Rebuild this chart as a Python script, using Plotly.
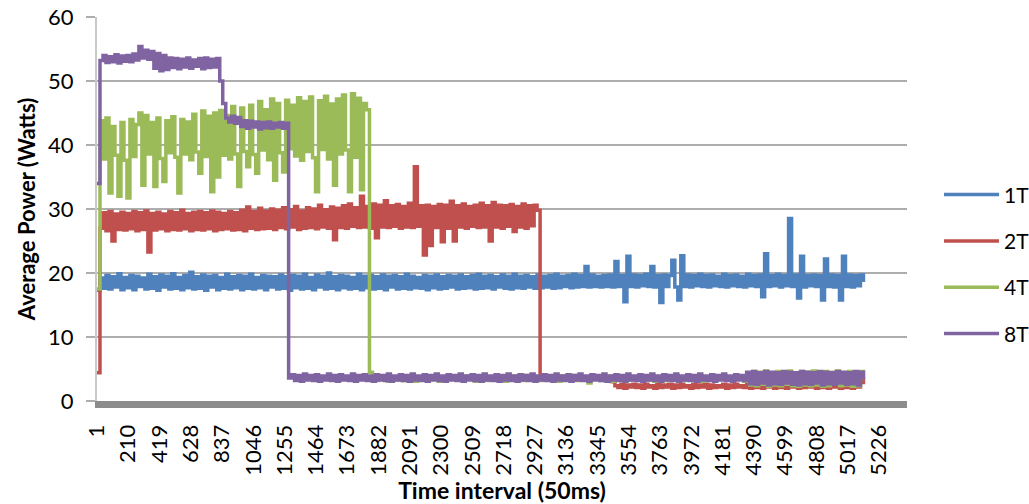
import plotly.graph_objects as go

# time-interval index (categories 1..N, sampled every 20 intervals)
time = list(range(1, 5122, 20))

tick_labels = [1, 210, 419, 628, 837, 1046, 1255, 1464, 1673, 1882, 2091, 2300, 2509,
               2718, 2927, 3136, 3345, 3554, 3763, 3972, 4181, 4390, 4599, 4808, 5017, 5226]
series_names = ["1T", "2T", "4T", "8T"]

p_1t = [
    17.3, 19.2, 17.6, 19.6, 17.5, 19.4, 17.8, 19.9, 17.4, 19.3,
    17.7, 19.6, 17.4, 19.5, 17.9, 19.2, 17.5, 19.8, 17.6, 19.4,
    17.3, 19.7, 17.8, 19.5, 17.5, 19.9, 17.6, 19.3, 17.4, 19.6,
    17.7, 20.1, 17.5, 19.4, 17.6, 19.7, 17.3, 19.5, 17.8, 19.6,
    17.4, 19.3, 17.6, 19.8, 17.5, 19.4, 17.7, 19.6, 17.4, 19.5,
    17.6, 19.8, 17.5, 19.3, 17.7, 19.6, 17.4, 19.5, 17.8, 19.4,
    17.5, 19.7, 17.6, 19.4, 17.3, 19.6, 17.7, 19.5, 17.5, 19.8,
    17.6, 19.3, 17.4, 19.7, 17.8, 19.5, 17.5, 20.0, 17.6, 19.4,
    17.4, 19.6, 17.7, 19.5, 17.5, 19.3, 17.6, 19.8, 17.4, 19.5,
    17.7, 19.6, 17.5, 19.4, 17.6, 19.7, 17.4, 19.5, 17.8, 19.6,
    17.5, 19.4, 17.6, 19.8, 17.5, 19.5, 17.7, 19.3, 17.6, 19.6,
    17.4, 19.5, 17.7, 19.7, 17.5, 19.4, 17.6, 19.6, 17.8, 19.5,
    17.5, 19.7, 17.6, 19.4, 17.7, 19.6, 17.5, 19.8, 17.6, 19.5,
    17.7, 19.6, 17.5, 19.4, 17.8, 19.7, 17.6, 19.5, 17.5, 19.8,
    17.7, 19.5, 17.6, 19.6, 17.8, 19.4, 17.6, 19.7, 17.7, 19.5,
    17.8, 19.6, 17.6, 19.8, 17.7, 19.5, 17.9, 19.6, 17.7, 19.8,
    17.8, 19.6, 17.9, 21.0, 17.8, 19.7, 17.9, 19.5, 17.8, 19.6,
    17.9, 19.7, 17.8, 21.8, 17.9, 19.6, 15.5, 22.6, 17.9, 19.7,
    17.8, 19.6, 18.0, 19.8, 17.9, 21.0, 17.8, 19.6, 15.4, 19.7,
    17.9, 19.6, 22.0, 17.8, 15.8, 22.7, 17.9, 19.7, 17.8, 19.6,
    18.0, 19.8, 17.9, 19.6, 17.8, 19.7, 18.0, 19.5, 17.9, 19.8,
    17.8, 19.6, 18.0, 19.7, 17.9, 19.5, 17.8, 19.8, 18.0, 19.6,
    17.9, 19.7, 16.3, 23.0, 17.9, 19.6, 18.0, 19.8, 17.8, 19.6,
    18.0, 28.5, 17.9, 19.7, 16.1, 22.6, 17.8, 19.6, 18.0, 19.7,
    17.9, 19.6, 15.8, 22.2, 17.9, 19.7, 17.8, 19.6, 15.8, 22.6,
    17.9, 19.7, 17.8, 19.6, 18.0, 19.7, 18.6,
]

p_2t = [
    4.4, 27.0, 29.4, 26.6, 29.6, 25.0, 29.2, 26.8, 29.5, 26.7,
    29.3, 26.9, 29.6, 26.6, 29.4, 26.8, 29.7, 23.3, 29.3, 26.7,
    29.5, 26.9, 29.2, 26.6, 29.6, 26.8, 29.4, 26.7, 29.8, 26.9,
    29.3, 26.6, 29.5, 26.8, 29.6, 26.7, 29.4, 26.9, 29.7, 26.6,
    29.5, 26.8, 29.3, 26.9, 29.6, 26.7, 29.4, 26.8, 29.8, 26.6,
    30.3, 27.0, 29.6, 26.8, 30.1, 26.9, 29.7, 27.0, 30.0, 26.8,
    29.8, 27.1, 30.2, 26.9, 29.9, 27.2, 30.4, 26.8, 29.7, 27.0,
    30.2, 27.1, 30.0, 26.9, 30.6, 27.2, 29.9, 27.0, 30.3, 25.2,
    30.1, 27.1, 30.5, 27.0, 30.8, 27.3, 30.2, 27.1, 32.0, 27.2,
    30.4, 27.0, 30.8, 25.5, 30.6, 27.2, 31.3, 27.1, 30.5, 27.3,
    30.7, 27.0, 30.4, 27.2, 30.9, 27.1, 36.6, 27.3, 30.5, 22.8,
    30.6, 24.3, 30.4, 27.1, 30.7, 24.9, 30.6, 27.0, 31.2, 25.0,
    30.5, 27.2, 30.8, 27.0, 30.4, 27.3, 30.6, 27.1, 30.9, 27.2,
    30.5, 25.0, 31.0, 27.2, 30.6, 27.0, 30.5, 27.3, 30.7, 26.5,
    30.4, 27.2, 30.8, 27.0, 30.5, 27.4, 30.6, 29.8, 3.6, 3.3,
    3.8, 3.4, 3.7, 3.3, 3.9, 3.5, 3.6, 3.3, 3.8, 3.4,
    3.7, 3.4, 3.8, 3.3, 3.6, 3.5, 3.9, 3.4, 3.7, 3.3,
    3.6, 3.4, 3.0, 2.4, 2.1, 2.6, 2.0, 2.5, 2.2, 2.6,
    2.1, 2.5, 2.0, 2.6, 2.2, 2.4, 2.0, 2.6, 2.1, 2.5,
    2.2, 2.6, 2.0, 2.5, 2.1, 2.6, 2.2, 2.4, 2.0, 2.6,
    2.1, 2.5, 2.2, 2.6, 2.0, 2.5, 2.1, 2.4, 2.2, 2.6,
    2.0, 2.5, 2.1, 2.6, 2.2, 2.4, 2.1, 2.9, 2.0, 3.4,
    2.1, 3.0, 2.0, 3.5, 2.2, 2.8, 2.0, 3.3, 2.1, 3.0,
    2.0, 3.4, 2.2, 2.9, 2.0, 3.5, 2.1, 3.0, 2.2, 3.3,
    2.0, 2.9, 2.1, 3.4, 2.0, 3.1, 2.2, 3.5, 2.0, 2.9,
    2.1, 3.3, 2.0, 3.0, 2.2, 3.4, 2.6,
]

p_4t = [
    17.5, 43.8, 37.8, 44.2, 32.5, 42.9, 38.4, 32.0, 43.5, 37.6,
    31.7, 44.0, 38.2, 43.2, 45.0, 33.7, 44.6, 38.6, 43.5, 33.5,
    44.2, 37.9, 34.3, 43.8, 38.8, 44.4, 38.1, 32.5, 44.0, 38.6,
    43.6, 37.7, 44.8, 38.9, 35.6, 45.3, 38.2, 44.5, 32.7, 45.0,
    35.0, 45.4, 38.4, 44.6, 37.8, 46.0, 38.6, 33.5, 45.8, 39.0,
    36.6, 46.2, 38.5, 35.6, 46.8, 39.2, 45.5, 37.7, 47.2, 34.5,
    46.5, 38.8, 35.8, 47.0, 39.4, 46.2, 38.3, 47.4, 37.6, 46.8,
    39.0, 47.5, 38.0, 32.7, 46.9, 39.3, 47.6, 37.8, 46.4, 33.7,
    47.2, 38.6, 47.8, 39.2, 32.7, 48.0, 38.1, 47.3, 33.0, 46.5,
    45.5, 4.5, 3.6, 3.2, 3.9, 3.4, 3.7, 3.1, 3.8, 3.5,
    3.3, 3.9, 3.2, 3.7, 3.4, 4.0, 3.1, 3.8, 3.5, 3.6,
    3.2, 3.9, 3.4, 3.7, 3.1, 3.8, 3.3, 4.0, 3.4, 3.6,
    3.3, 3.8, 3.2, 3.9, 3.5, 3.7, 3.1, 3.8, 3.4, 4.0,
    3.2, 3.7, 3.3, 3.9, 3.4, 3.6, 3.1, 3.8, 3.3, 3.9,
    3.4, 3.7, 3.2, 4.0, 3.3, 3.8, 3.5, 3.6, 3.2, 3.9,
    3.3, 3.8, 3.4, 3.7, 3.1, 3.9, 3.3, 3.6, 3.4, 4.0,
    3.2, 3.8, 3.3, 3.7, 2.8, 3.9, 3.4, 3.6, 3.2, 3.8,
    3.3, 3.9, 3.1, 3.7, 3.4, 3.8, 3.2, 4.0, 3.3, 3.6,
    3.4, 3.8, 3.2, 3.9, 3.3, 3.7, 3.1, 3.8, 3.4, 3.9,
    3.2, 3.7, 3.3, 4.0, 3.4, 3.6, 3.2, 3.8, 3.3, 3.9,
    3.4, 3.7, 3.1, 3.8, 3.3, 4.0, 3.2, 3.6, 3.4, 3.9,
    3.3, 3.8, 3.2, 3.7, 3.4, 3.9, 3.1, 4.4, 2.5, 4.6,
    2.4, 4.5, 2.6, 4.7, 2.3, 4.4, 2.5, 4.6, 2.4, 4.5,
    2.6, 4.7, 2.4, 4.4, 2.3, 4.6, 2.5, 4.5, 2.4, 4.7,
    2.5, 4.4, 2.3, 4.6, 2.4, 4.5, 2.6, 4.7, 2.4, 4.4,
    2.5, 4.6, 2.3, 4.5, 2.4, 4.6, 3.4,
]

p_8t = [
    34.0, 53.2, 54.0, 52.9, 53.8, 53.0, 54.1, 52.8, 53.9, 53.1,
    54.0, 53.0, 54.2, 53.3, 55.4, 53.6, 54.8, 53.4, 54.6, 52.0,
    54.3, 51.6, 54.0, 51.8, 53.6, 52.1, 53.5, 51.9, 53.4, 52.2,
    53.6, 52.0, 53.3, 52.3, 53.5, 51.9, 53.6, 52.1, 53.4, 52.2,
    53.5, 50.0, 46.5, 44.2, 43.6, 44.5, 43.4, 44.3, 42.9, 43.8,
    42.6, 43.7, 42.8, 43.6, 42.5, 43.5, 42.7, 43.6, 42.6, 43.4,
    42.8, 43.5, 42.6, 43.4, 3.6, 4.1, 3.2, 4.0, 3.1, 4.2,
    3.3, 4.0, 3.2, 4.1, 3.1, 3.9, 3.3, 4.2, 3.2, 4.0,
    3.1, 4.1, 3.3, 3.9, 3.2, 4.2, 3.1, 4.0, 3.3, 4.1,
    3.2, 3.9, 3.1, 4.1, 3.3, 4.0, 3.2, 4.2, 3.1, 3.9,
    3.3, 4.1, 3.2, 4.0, 3.1, 4.2, 3.3, 3.9, 3.2, 4.1,
    3.1, 4.0, 3.3, 4.2, 3.2, 3.9, 3.1, 4.1, 3.3, 4.0,
    3.2, 4.2, 3.1, 3.9, 3.3, 4.1, 3.2, 4.0, 3.1, 4.2,
    3.3, 3.9, 3.2, 4.1, 3.1, 4.0, 3.3, 4.2, 3.2, 3.9,
    3.1, 4.1, 3.3, 4.0, 3.2, 4.2, 3.1, 3.9, 3.3, 4.1,
    3.2, 4.0, 3.1, 4.2, 3.3, 3.9, 3.2, 4.1, 3.1, 4.0,
    3.3, 4.2, 3.2, 3.9, 3.1, 4.1, 3.3, 4.0, 3.2, 4.2,
    3.1, 3.9, 3.3, 4.1, 3.2, 4.0, 3.1, 4.2, 3.3, 3.9,
    3.2, 4.1, 3.1, 4.0, 3.3, 4.2, 3.2, 3.9, 3.1, 4.1,
    3.3, 4.0, 3.2, 4.2, 3.1, 3.9, 3.3, 4.1, 3.2, 4.0,
    3.1, 4.2, 3.3, 3.9, 3.2, 4.1, 3.1, 4.0, 3.3, 4.2,
    3.2, 3.9, 3.1, 4.1, 3.3, 4.0, 3.2, 4.5, 2.7, 4.6,
    2.6, 4.4, 2.8, 4.6, 2.5, 4.5, 2.7, 4.4, 2.6, 4.6,
    2.8, 4.5, 2.6, 4.4, 2.5, 4.6, 2.7, 4.5, 2.6, 4.4,
    2.8, 4.6, 2.5, 4.5, 2.7, 4.4, 2.6, 4.6, 2.8, 4.5,
    2.6, 4.4, 2.7, 4.6, 2.5, 4.5, 3.4,
]

colors = ["#4F81BD", "#C0504D", "#9BBB59", "#8064A2"]
FONT = "Lato"

fig = go.Figure()
for name, vals, col in zip(series_names, [p_1t, p_2t, p_4t, p_8t], colors):
    fig.add_trace(go.Scatter(
        x=time[:len(vals)], y=vals, mode="lines", name=name,
        line=dict(color=col, width=3.5, shape="hv", simplify=False),
        legendgroup=name,
    ))

fig.update_layout(
    width=1029, height=504,
    margin=dict(l=97, r=122, t=17, b=103, autoexpand=False),
    paper_bgcolor="white", plot_bgcolor="white",
    font=dict(family=FONT, size=22, color="#000000"),
    showlegend=True,
    legend=dict(
        x=1.0395, xanchor="left", y=0.59, yanchor="top",
        font=dict(family=FONT, size=21, color="#000000"),
        traceorder="grouped", tracegroupgap=16, itemwidth=55,
        bgcolor="rgba(0,0,0,0)",
    ),
    xaxis=dict(
        range=[1, 5412], tickmode="array", tickvals=tick_labels,
        ticktext=[str(v) for v in tick_labels], tickangle=-90,
        showgrid=False, zeroline=False, automargin=False,
        showline=True, linecolor="#8C8C8C", linewidth=7,
        ticks="outside", ticklen=8, tickcolor="rgba(0,0,0,0)",
        tickfont=dict(family=FONT, size=22, color="#000000"),
        title=dict(text="<b>Time interval (50ms)</b>", standoff=13,
                   font=dict(family=FONT, size=23, color="#000000")),
    ),
    yaxis=dict(
        range=[0, 60], tickvals=[0, 10, 20, 30, 40, 50, 60],
        showgrid=True, gridcolor="#ADADAD", gridwidth=2, zeroline=False,
        showline=True, linecolor="#C8C8C8", linewidth=2, automargin=False,
        ticks="outside", ticklen=9, tickcolor="#ADADAD", tickwidth=2,
        ticklabelstandoff=8,
        tickfont=dict(family=FONT, size=22, color="#000000"),
        title=dict(text="<b>Average Power (Watts)</b>", standoff=6,
                   font=dict(family=FONT, size=22, color="#000000")),
    ),
)

# remove the browser's default 8 px page margin so the figure fills the window
fig.write_html("out.html", config={"displayModeBar": False},
               post_script="document.body.style.margin='0';")
